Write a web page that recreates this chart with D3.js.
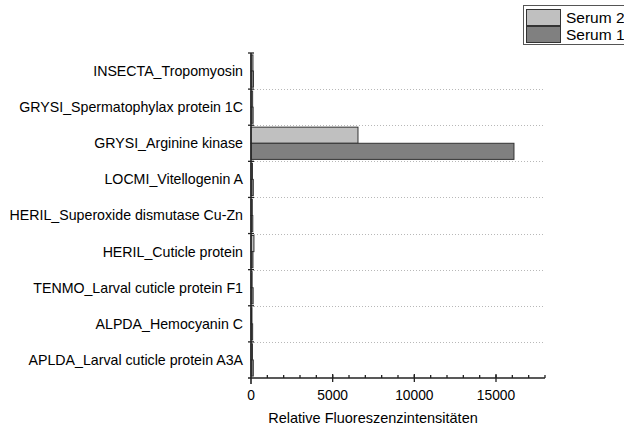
<!DOCTYPE html>
<html>
  <head>
    <meta charset="utf-8">
    <title>Relative Fluoreszenzintensitäten</title>
    <script src="https://d3js.org/d3.v7.min.js"></script>
    <style>
    body { margin: 0; background: #fff; }
    svg text { font-family: Arial, "Liberation Sans", sans-serif; fill: #000; }
    .grid line { stroke: #b8b8b8; stroke-dasharray: 1,2; }
    </style>
  </head>
  <body>
<svg width="624" height="431"></svg>

<script>
// categories, top to bottom
var proteins = [
  'INSECTA_Tropomyosin',
  'GRYSI_Spermatophylax protein 1C',
  'GRYSI_Arginine kinase',
  'LOCMI_Vitellogenin A',
  'HERIL_Superoxide dismutase Cu-Zn',
  'HERIL_Cuticle protein',
  'TENMO_Larval cuticle protein F1',
  'ALPDA_Hemocyanin C',
  'APLDA_Larval cuticle protein A3A'
];
var serum2 = [120, 100, 6550, 90, 80, 180, 70, 60, 90];
var serum1 = [150, 130, 16100, 140, 110, 120, 130, 100, 140];
var seriesNames = ['Serum 2', 'Serum 1'];
var seriesColors = ['#c0c0c0', '#808080'];
var xTicks = [0, 5000, 10000, 15000];

var svg = d3.select('svg');

var x = d3.scaleLinear()
  .domain([0, 18000])
  .range([251, 545]);

var y = d3.scaleBand()
  .domain(proteins)
  .range([53, 378]);

var inner = d3.scaleBand()
  .domain(seriesNames)
  .range([0, y.bandwidth()])
  .paddingOuter(0.12)
  .paddingInner(0);

// dotted gridlines between categories
svg.append('g')
  .attr('class', 'grid')
  .selectAll('line')
  .data(proteins.slice(1))
  .enter().append('line')
    .attr('x1', x(0))
    .attr('x2', x(18000))
    .attr('y1', function(d) { return Math.round(y(d)) + 0.5; })
    .attr('y2', function(d) { return Math.round(y(d)) + 0.5; });

// bars
var rows = proteins.map(function(p, i) {
  return { protein: p, values: [serum2[i], serum1[i]] };
});

var groups = svg.selectAll('g.row')
  .data(rows)
  .enter().append('g')
    .attr('class', 'row')
    .attr('transform', function(d) { return 'translate(0,' + y(d.protein) + ')'; });

groups.selectAll('rect')
  .data(function(d) { return d.values; })
  .enter().append('rect')
    .attr('x', x(0))
    .attr('y', function(d, i) { return inner(seriesNames[i]); })
    .attr('width', function(d) { return x(d) - x(0); })
    .attr('height', inner.bandwidth())
    .attr('fill', function(d, i) { return seriesColors[i]; })
    .attr('stroke', '#333')
    .attr('stroke-width', 1);

// y axis
var yAxis = svg.append('g');
yAxis.append('line')
  .attr('x1', x(0)).attr('x2', x(0))
  .attr('y1', y.range()[0]).attr('y2', y.range()[1] + 6)
  .attr('stroke', '#222').attr('stroke-width', 1.6);
var bounds = proteins.map(function(p) { return y(p); });
yAxis.selectAll('line.tick')
  .data(bounds)
  .enter().append('line')
    .attr('class', 'tick')
    .attr('x1', x(0) - 3).attr('x2', x(0) + 3)
    .attr('y1', function(d) { return d; })
    .attr('y2', function(d) { return d; })
    .attr('stroke', '#222').attr('stroke-width', 1.3);
yAxis.selectAll('text')
  .data(proteins)
  .enter().append('text')
    .attr('x', 243)
    .attr('y', function(d) { return y(d) + y.bandwidth() / 2; })
    .attr('dy', '0.35em')
    .attr('text-anchor', 'end')
    .style('font-size', '14.2px')
    .text(function(d) { return d; });

// x axis
var xAxis = svg.append('g');
var axisY = y.range()[1];
xAxis.append('line')
  .attr('x1', x(0) - 3).attr('x2', x(18000))
  .attr('y1', axisY).attr('y2', axisY)
  .attr('stroke', '#222').attr('stroke-width', 1.6);
xAxis.selectAll('line.minor')
  .data(d3.range(1000, 18001, 1000))
  .enter().append('line')
    .attr('x1', function(d) { return x(d); })
    .attr('x2', function(d) { return x(d); })
    .attr('y1', axisY)
    .attr('y2', axisY - 3)
    .attr('stroke', '#222').attr('stroke-width', 1.3);
xAxis.selectAll('line.major')
  .data(xTicks.slice(1))
  .enter().append('line')
    .attr('x1', function(d) { return x(d); })
    .attr('x2', function(d) { return x(d); })
    .attr('y1', axisY - 4)
    .attr('y2', axisY + 4)
    .attr('stroke', '#222').attr('stroke-width', 1.3);
xAxis.selectAll('text')
  .data(xTicks)
  .enter().append('text')
    .attr('x', function(d) { return x(d); })
    .attr('y', 400)
    .attr('text-anchor', 'middle')
    .style('font-size', '13.8px')
    .text(function(d) { return d; });

svg.append('text')
  .attr('x', (x(0) + x(18000)) / 2 - 25)
  .attr('y', 423)
  .attr('text-anchor', 'middle')
  .style('font-size', '14.5px')
  .text('Relative Fluoreszenzintensitäten');

// legend
var legend = svg.append('g');
legend.append('rect')
  .attr('x', 523.5).attr('y', 5.5)
  .attr('width', 110).attr('height', 39)
  .attr('fill', '#fff')
  .attr('stroke', '#555');
var items = legend.selectAll('g.item')
  .data(seriesNames)
  .enter().append('g')
    .attr('class', 'item')
    .attr('transform', function(d, i) { return 'translate(0,' + (i * 17) + ')'; });
items.append('rect')
  .attr('x', 526.5).attr('y', 9.5)
  .attr('width', 34).attr('height', 16)
  .attr('fill', function(d, i) { return seriesColors[i]; })
  .attr('stroke', '#333');
items.append('text')
  .attr('x', 566)
  .attr('y', 22.5)
  .style('font-size', '15.5px')
  .text(function(d) { return d; });
</script>
  </body>
</html>
